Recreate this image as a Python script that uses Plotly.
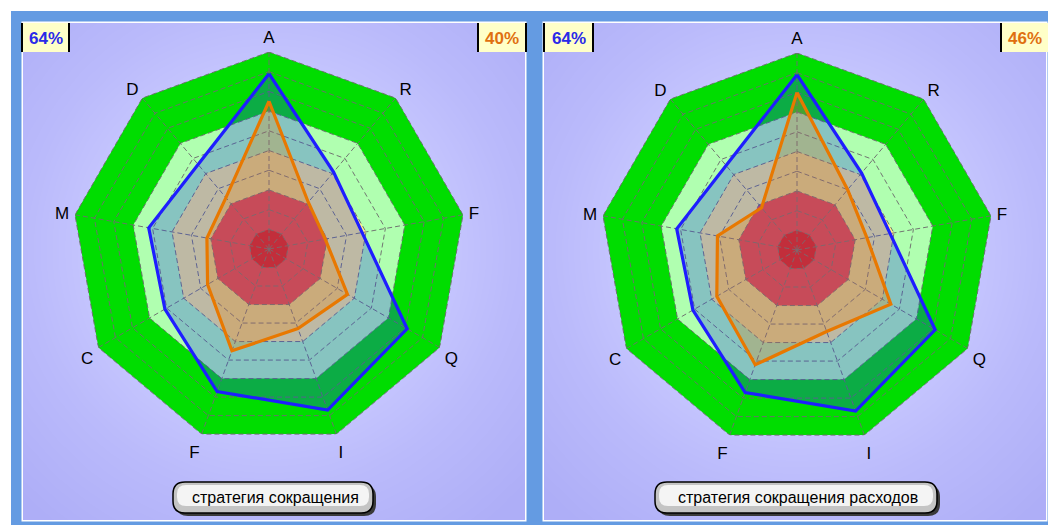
import numpy as np
import plotly.graph_objects as go

W, H = 1048, 525

# ---------------- data ----------------
categories = ["A", "R", "F", "Q", "I", "F", "C", "M", "D"]
angles = [0, 40, 80, 120, 160, 200, 240, 280, 320]

blue_left = [89, 51, 48, 81, 87, 77, 61, 62, 56]
orange_left = [75, 31, 29, 46, 43, 55, 36, 32, 34]
blue_right = [89, 51, 48, 81, 87, 77, 61, 62, 56]
orange_right = [80, 40, 36, 55, 44, 62, 47, 41, 28]

blue_scores = ["64%", "64%"]
orange_scores = ["40%", "46%"]
titles = ["стратегия сокращения", "стратегия сокращения расходов"]

band_levels = [100, 70, 50, 30, 10]
band_colors = ["#00dd00", "#b0ffb0", "#fff089", "#fa3748", "#f0000f"]
grid_levels = [10, 20, 30, 40, 50, 60, 70, 80, 90, 100]

# ---------------- layout geometry (pixels) ----------------
R = 197
centers = [(269, 249), (797, 250)]
panels = [(23, 23, 525, 520), (544, 23, 1046, 520)]
buttons = [(173, 482, 373, 513), (655, 482, 937, 513)]

BLUE_LINE = "#1e1eff"
ORANGE_LINE = "#e87800"
BLUE_FILL = "rgba(40,60,230,0.30)"
ORANGE_FILL = "rgba(240,130,0,0.25)"
FONT = "Arial, Liberation Sans, sans-serif"


def px(x):
    return x / W


def py(y):
    return 1 - y / H


def closed(vals):
    return list(vals) + [vals[0]]


fig = go.Figure()
shapes = []
annotations = []

series = [(blue_left, orange_left), (blue_right, orange_right)]

# background gradient heatmaps
for i, ((x0, y0, x1, y1), (cx, cy)) in enumerate(zip(panels, centers)):
    xs = np.linspace(x0, x1, 70)
    ys = np.linspace(y0, y1, 70)
    X, Y = np.meshgrid(xs, ys)
    Z = np.sqrt((X - cx) ** 2 + (Y - cy) ** 2)
    suffix = "" if i == 0 else "2"
    fig.add_trace(go.Heatmap(
        x=xs, y=ys, z=Z, zmin=0, zmax=350, zsmooth="best", showscale=False,
        hoverinfo="skip",
        colorscale=[[0, "rgb(208,208,255)"], [0.45, "rgb(200,200,255)"],
                    [0.7, "rgb(186,186,251)"], [1, "rgb(174,174,247)"]],
        xaxis="x" + suffix, yaxis="y" + suffix,
    ))

for i, (blue_vals, orange_vals) in enumerate(series):
    sub = "polar" if i == 0 else "polar2"
    # bands
    for lvl, col in zip(band_levels, band_colors):
        fig.add_trace(go.Scatterpolar(
            r=closed([lvl] * len(angles)), theta=closed(angles), mode="lines",
            fill="toself", fillcolor=col, line=dict(width=0, color=col),
            hoverinfo="skip", showlegend=False, subplot=sub))
    # grid rings
    for lvl in grid_levels:
        fig.add_trace(go.Scatterpolar(
            r=closed([lvl] * len(angles)), theta=closed(angles), mode="lines",
            line=dict(width=1, color="rgba(110,110,110,0.95)", dash="5px,3px"),
            hoverinfo="skip", showlegend=False, subplot=sub))
    # spokes
    sr, st = [], []
    for a in angles:
        sr += [0, grid_levels[-1], None]
        st += [a, a, None]
    fig.add_trace(go.Scatterpolar(
        r=sr, theta=st, mode="lines",
        line=dict(width=1, color="rgba(110,110,110,0.95)", dash="5px,3px"),
        hoverinfo="skip", showlegend=False, subplot=sub))
    # series
    fig.add_trace(go.Scatterpolar(
        r=closed(blue_vals), theta=closed(angles), mode="lines", fill="toself",
        fillcolor=BLUE_FILL, line=dict(width=3.2, color=BLUE_LINE),
        showlegend=False, subplot=sub))
    fig.add_trace(go.Scatterpolar(
        r=closed(orange_vals), theta=closed(angles), mode="lines", fill="toself",
        fillcolor=ORANGE_FILL, line=dict(width=3.2, color=ORANGE_LINE),
        showlegend=False, subplot=sub))

polar_common = dict(
    bgcolor="rgba(0,0,0,0)",
    radialaxis=dict(range=[0, 100], visible=False, showgrid=False),
    angularaxis=dict(
        direction="clockwise", rotation=90, thetaunit="degrees",
        tickmode="array", tickvals=angles, ticktext=categories,
        showgrid=False, showline=False, ticks="outside", ticklen=2,
        tickcolor="rgba(0,0,0,0)",
        tickfont=dict(family=FONT, size=17, color="#000000")),
)

layout = dict(
    width=W, height=H, margin=dict(l=0, r=0, t=0, b=0),
    paper_bgcolor="#ffffff", plot_bgcolor="rgba(0,0,0,0)",
    showlegend=False,
)
for i, (cx, cy) in enumerate(centers):
    key = "polar" if i == 0 else "polar2"
    d = dict(polar_common)
    d["domain"] = dict(x=[px(cx - R), px(cx + R)], y=[py(cy + R), py(cy - R)])
    layout[key] = d

for i, (x0, y0, x1, y1) in enumerate(panels):
    sx = "xaxis" if i == 0 else "xaxis2"
    sy = "yaxis" if i == 0 else "yaxis2"
    layout[sx] = dict(domain=[px(x0), px(x1)], range=[x0, x1], visible=False,
                      fixedrange=True, anchor="y" if i == 0 else "y2")
    layout[sy] = dict(domain=[py(y1), py(y0)], range=[y1, y0], visible=False,
                      fixedrange=True, anchor="x" if i == 0 else "x2")

# frame
shapes.append(dict(type="rect", xref="paper", yref="paper", layer="below",
                   x0=px(11), x1=px(1048), y0=py(525), y1=py(11),
                   fillcolor="#649be2", line=dict(width=0)))
for (x0, y0, x1, y1) in panels:
    shapes.append(dict(type="rect", xref="paper", yref="paper", layer="below",
                       x0=px(x0 - 1.5), x1=px(x1 + 1.5), y0=py(y1 + 1.5), y1=py(y0 - 1.5),
                       fillcolor="#ffffff", line=dict(width=0)))


def score_box(x0, x1, text, color):
    y0, y1 = 23, 52
    shapes.append(dict(type="rect", xref="paper", yref="paper", layer="above",
                       x0=px(x0), x1=px(x1), y0=py(y1), y1=py(y0),
                       fillcolor="#ffffc8", line=dict(width=0)))
    for xx in (x0, x1):
        shapes.append(dict(type="line", xref="paper", yref="paper", layer="above",
                           x0=px(xx), x1=px(xx), y0=py(y1), y1=py(y0),
                           line=dict(width=2, color="#000000")))
    annotations.append(dict(xref="paper", yref="paper", x=px((x0 + x1) / 2), y=py((y0 + y1) / 2 + 1),
                            text="<b>" + text + "</b>", showarrow=False,
                            font=dict(family=FONT, size=17, color=color),
                            xanchor="center", yanchor="middle"))


score_box(22, 69, blue_scores[0], "#2a2ae8")
score_box(478, 526, orange_scores[0], "#e07010")
score_box(544, 593, blue_scores[1], "#2a2ae8")
score_box(1001, 1049, orange_scores[1], "#e07010")


def rounded_path(x0, y0, x1, y1, r):
    pts = [
        ("M", [(x0 + r, y0)]), ("L", [(x1 - r, y0)]), ("Q", [(x1, y0), (x1, y0 + r)]),
        ("L", [(x1, y1 - r)]), ("Q", [(x1, y1), (x1 - r, y1)]),
        ("L", [(x0 + r, y1)]), ("Q", [(x0, y1), (x0, y1 - r)]),
        ("L", [(x0, y0 + r)]), ("Q", [(x0, y0), (x0 + r, y0)]),
    ]
    s = ""
    for cmd, ps in pts:
        s += cmd + " " + " ".join("%.5f,%.5f" % (px(a), py(b)) for a, b in ps) + " "
    return s + "Z"


for (x0, y0, x1, y1), title in zip(buttons, titles):
    shapes.append(dict(type="path", xref="paper", yref="paper", layer="above",
                       path=rounded_path(x0 + 3, y0 + 3, x1 + 3, y1 + 3, 12),
                       fillcolor="#3a3a3a", line=dict(width=0)))
    shapes.append(dict(type="path", xref="paper", yref="paper", layer="above",
                       path=rounded_path(x0, y0, x1, y1, 12),
                       fillcolor="#c4c4c4", line=dict(width=1.5, color="#000000")))
    shapes.append(dict(type="path", xref="paper", yref="paper", layer="above",
                       path=rounded_path(x0 + 4, y0 + 3, x1 - 4, y1 - 7, 9),
                       fillcolor="#f4f4f4", line=dict(width=0)))
    annotations.append(dict(xref="paper", yref="paper", x=px((x0 + x1) / 2 + 2), y=py((y0 + y1) / 2),
                            text=title, showarrow=False,
                            font=dict(family=FONT, size=16, color="#000000"),
                            xanchor="center", yanchor="middle"))

layout["shapes"] = shapes
layout["annotations"] = annotations
fig.update_layout(**layout)

fig.write_html(
    "out.html",
    config={"displayModeBar": False},
    post_script="document.body.style.margin='0';document.body.style.overflow='hidden';",
)
